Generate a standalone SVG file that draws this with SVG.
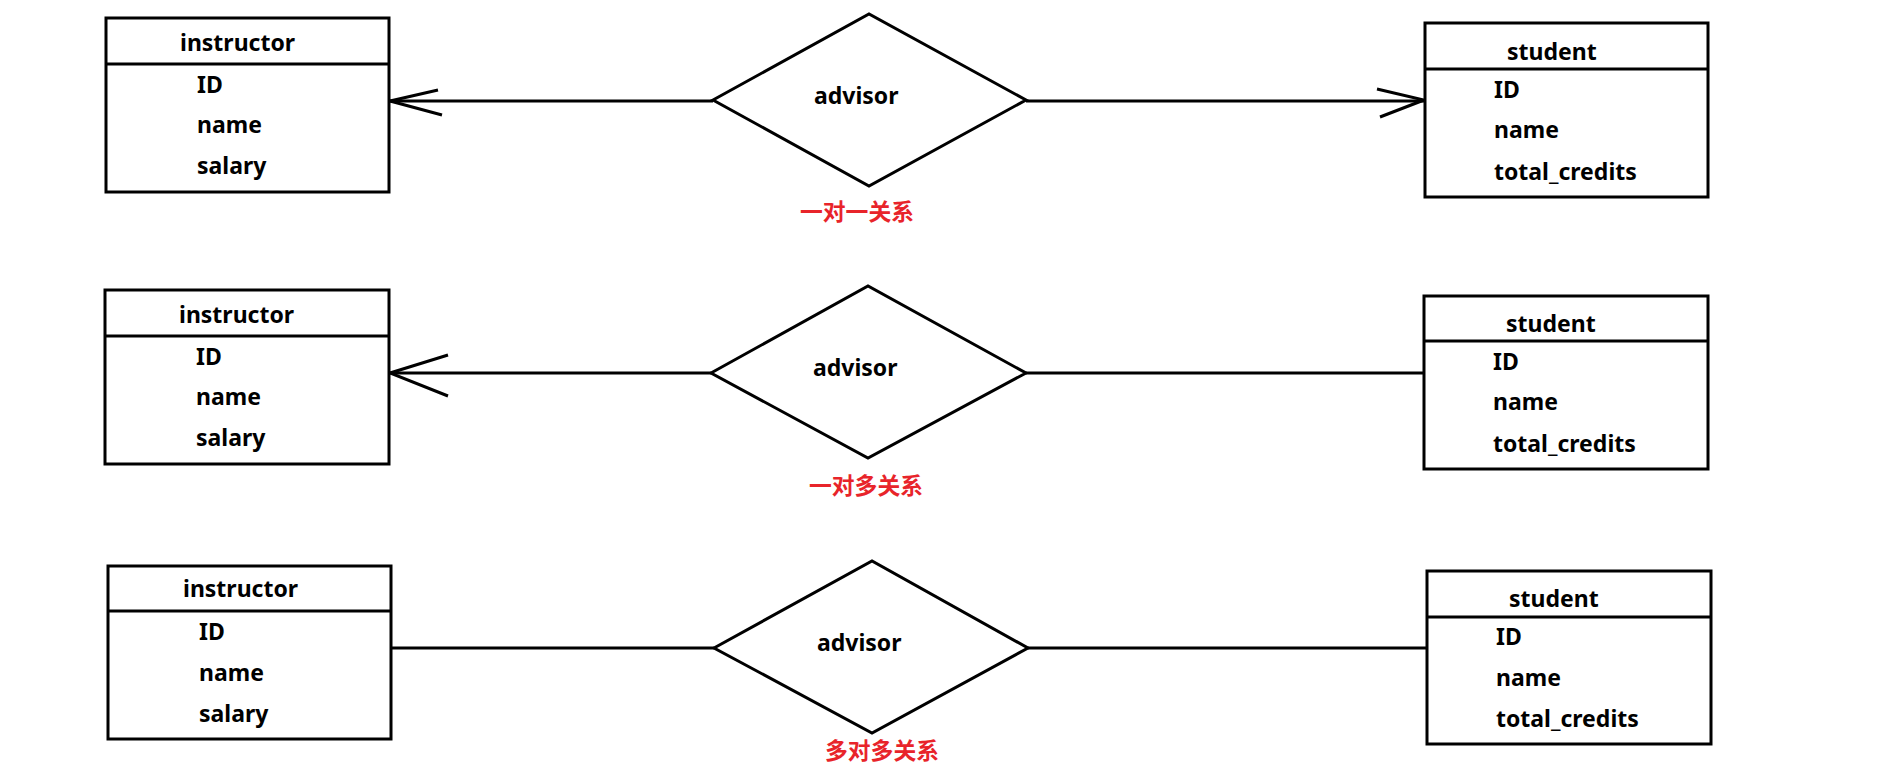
<svg xmlns="http://www.w3.org/2000/svg" width="1897" height="773" viewBox="0 0 1897 773">
<style>
.box{fill:#fff;stroke:#000;stroke-width:3}
.ln{fill:none;stroke:#000;stroke-width:3}
.t{font-family:"Noto Sans","Open Sans","DejaVu Sans",sans-serif;font-weight:bold;font-size:23px;fill:#000}
.r{font-family:"Noto Sans CJK SC","Noto Sans",sans-serif;font-weight:bold;font-size:22.8px;fill:#e8242a}
</style>
<rect width="1897" height="773" fill="#fff"/>
<g id="connectors">
<path class="ln" d="M389 101H713M1026 101H1425"/>
<path class="ln" d="M438 90L390 101L442 115"/>
<path class="ln" d="M1377 89L1424 100L1380 117"/>
<path class="ln" d="M389 373H711M1026 373H1424"/>
<path class="ln" d="M448 355L390 373L448 396"/>
<path class="ln" d="M391 648H714M1028 648H1427"/>
</g>
<g id="instructor1">
<rect class="box" x="106" y="18" width="283" height="174"/>
<path class="ln" d="M106 64H389"/>
<text class="t" x="180" y="51">instructor</text>
<text class="t" x="197" y="93">ID</text>
<text class="t" x="197" y="133">name</text>
<text class="t" x="197" y="174">salary</text>
</g>
<g id="advisor1">
<polygon class="box" points="713,100 869,14 1026,100 869,186"/>
<text class="t" x="814" y="104">advisor</text>
<text class="r" x="800" y="220">一对一关系</text>
</g>
<g id="student1">
<rect class="box" x="1425" y="23" width="283" height="174"/>
<path class="ln" d="M1425 69H1708"/>
<text class="t" x="1507" y="60">student</text>
<text class="t" x="1494" y="98">ID</text>
<text class="t" x="1494" y="138">name</text>
<text class="t" x="1494" y="180">total_credits</text>
</g>
<g id="instructor2">
<rect class="box" x="105" y="290" width="284" height="174"/>
<path class="ln" d="M105 336H389"/>
<text class="t" x="179" y="323">instructor</text>
<text class="t" x="196" y="365">ID</text>
<text class="t" x="196" y="405">name</text>
<text class="t" x="196" y="446">salary</text>
</g>
<g id="advisor2">
<polygon class="box" points="711,373 868,286 1026,373 868,458"/>
<text class="t" x="813" y="376">advisor</text>
<text class="r" x="809" y="494">一对多关系</text>
</g>
<g id="student2">
<rect class="box" x="1424" y="296" width="284" height="173"/>
<path class="ln" d="M1424 341H1708"/>
<text class="t" x="1506" y="332">student</text>
<text class="t" x="1493" y="370">ID</text>
<text class="t" x="1493" y="410">name</text>
<text class="t" x="1493" y="452">total_credits</text>
</g>
<g id="instructor3">
<rect class="box" x="108" y="566" width="283" height="173"/>
<path class="ln" d="M108 611H391"/>
<text class="t" x="183" y="597">instructor</text>
<text class="t" x="199" y="640">ID</text>
<text class="t" x="199" y="681">name</text>
<text class="t" x="199" y="722">salary</text>
</g>
<g id="advisor3">
<polygon class="box" points="714,648 872,561 1028,648 872,733"/>
<text class="t" x="817" y="651">advisor</text>
<text class="r" x="825" y="759">多对多关系</text>
</g>
<g id="student3">
<rect class="box" x="1427" y="571" width="284" height="173"/>
<path class="ln" d="M1427 617H1711"/>
<text class="t" x="1509" y="607">student</text>
<text class="t" x="1496" y="645">ID</text>
<text class="t" x="1496" y="686">name</text>
<text class="t" x="1496" y="727">total_credits</text>
</g>
</svg>
